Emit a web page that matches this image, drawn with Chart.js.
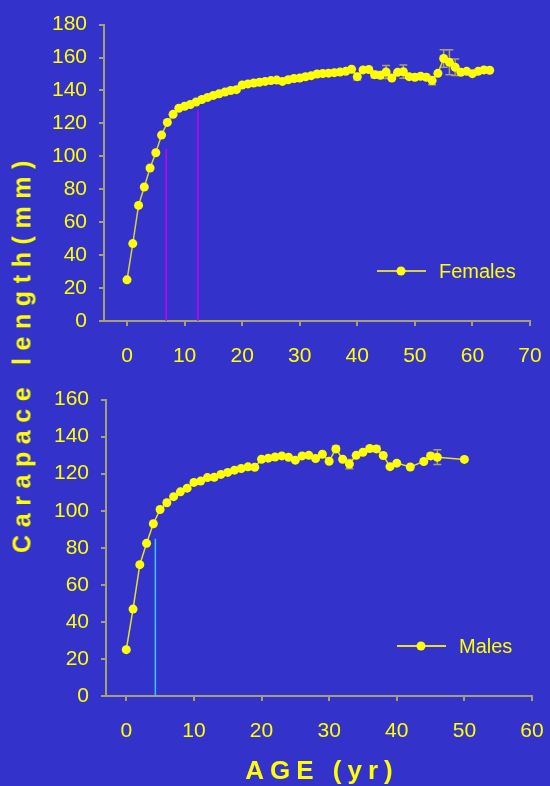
<!DOCTYPE html>
<html>
<head>
<meta charset="utf-8">
<script src="https://cdn.jsdelivr.net/npm/chart.js@4.4.0/dist/chart.umd.min.js"></script>
<style>
  html, body { margin: 0; padding: 0; background: #3333cc; }
  body { width: 550px; height: 786px; position: relative; overflow: hidden; font-family: "Liberation Sans", Arial, sans-serif; }
  canvas { position: absolute; left: 0; }
  #femaleChart { top: 0; }
  #maleChart { top: 375px; }
  .axisTitle { position: absolute; color: #ffff00; font-weight: bold; white-space: nowrap; }
  #yTitle { left: 22px; top: 353px; font-size: 25px; letter-spacing: 7.6px; transform: translate(-50%, -50%) rotate(-90deg); }
  #xTitle { left: 322px; top: 770px; font-size: 26px; letter-spacing: 6px; transform: translate(-50%, -50%); }
</style>
</head>
<body>
<canvas id="femaleChart" width="550" height="375"></canvas>
<canvas id="maleChart" width="550" height="411"></canvas>
<div id="yTitle" class="axisTitle">Carapace length(mm)</div>
<div id="xTitle" class="axisTitle">AGE (yr)</div>
<script>
// Females: age (yr) and mean carapace length (mm)
const femaleAge = [0,1,2,3,4,5,6,7,8,9,10,11,12,13,14,15,16,17,18,19,20,21,22,23,24,25,26,27,28,29,30,31,
    32,33,34,35,36,37,38,39,40,41,42,43,44,45,46,47,48,49,50,51,52,53,54,55,56,57,58,59,60,61,62,63];
const femaleLength = [25,47,70.2,81.4,92.9,102.2,112.9,120.6,125.5,129.2,130.4,131.5,133,134.5,135.8,137,
    138,139,140,140.5,143.3,144,144.5,145,145.5,146,146.3,145.5,146.5,147.3,147.5,148.3,149,150,150.3,
    150.5,150.8,151.2,151.6,152.9,148.4,152.5,152.7,149.6,149.2,151.2,147.6,151,151.4,148.4,148,148.6,
    148,146,150.4,159.4,157.1,154.1,151,151.6,150.2,151.6,152.5,152.3];
const femaleErrAge = [40,43,45,48,53,55,56,57];
const femaleErr = [2,2,4,4,2.5,5.3,7.6,5];
const femaleMarkAge = [6.8,12.3];
const femaleMarkTop = [104.5,128];
const femaleTicksX = [0,10,20,30,40,50,60,70];

// Males
const maleAge = [0,1,2,3,4,5,6,7,8,9,10,11,12,13,14,15,16,17,18,19,20,21,22,23,24,25,26,27,28,29,30,
    31,32,33,34,35,36,37,38,39,40,42,44,45,46,50];
const maleLength = [25,46.9,70.9,82.4,93,100.7,104.3,107.6,110.2,112.2,115.3,116,117.9,118.1,119.6,120.7,
    121.9,122.8,123.7,123.5,127.8,128.4,129,129.6,128.9,127.3,129.6,129.9,128.2,130.5,126.7,133.4,127.8,
    125.2,129.9,131.6,133.6,133.4,129.8,123.8,125.7,123.6,126.6,129.6,128.9,127.7];
const maleErrAge = [31,33,36,37,45,46];
const maleErr = [1.5,2.5,1,1.5,1.5,4];
const maleMarkAge = [4.3];
const maleMarkTop = [84.9];
const maleTicksX = [0,10,20,30,40,50,60];

const yellow = '#ffff00';
const axisColor = '#a8a070';
const family = '"Liberation Sans", Arial, sans-serif';

// error bars drawn under the markers
const errorBars = {
    id: 'errorBars',
    beforeDatasetsDraw(chart, args, opts) {
        const ctx = chart.ctx;
        const x = chart.scales.x, y = chart.scales.y;
        ctx.save();
        ctx.strokeStyle = opts.color;
        ctx.lineWidth = 1.5;
        opts.ages.forEach((a, i) => {
            const v = opts.values[opts.allAges.indexOf(a)];
            const px = x.getPixelForValue(a);
            const top = y.getPixelForValue(v + opts.errs[i]);
            const bot = y.getPixelForValue(v - opts.errs[i]);
            ctx.beginPath();
            ctx.moveTo(px, top); ctx.lineTo(px, bot);
            ctx.moveTo(px - 4, top); ctx.lineTo(px + 4, top);
            ctx.moveTo(px - 4, bot); ctx.lineTo(px + 4, bot);
            ctx.stroke();
        });
        ctx.restore();
    }
};

// legend box: line with marker, then label
const sideLegend = {
    id: 'sideLegend',
    afterDraw(chart, args, opts) {
        const ctx = chart.ctx;
        ctx.save();
        ctx.strokeStyle = opts.lineColor;
        ctx.lineWidth = 2;
        ctx.beginPath();
        ctx.moveTo(opts.x, opts.y);
        ctx.lineTo(opts.x + 49, opts.y);
        ctx.stroke();
        ctx.fillStyle = yellow;
        ctx.beginPath();
        ctx.arc(opts.x + 24, opts.y, 4.5, 0, Math.PI * 2);
        ctx.fill();
        ctx.font = '20px ' + family;
        ctx.textBaseline = 'middle';
        ctx.fillText(opts.text, opts.x + 62, opts.y + 1);
        ctx.restore();
    }
};

function makeChart(id, ages, lengths, lineColor, markAge, markTop, markColor, xMin, xMax, xTicks, yMax, pad, errAges, errs, legendText, legendX) {
    const datasets = [{
        label: legendText,
        data: ages.map((a, i) => ({x: a, y: lengths[i]})),
        showLine: true,
        borderColor: lineColor,
        borderWidth: 1.5,
        pointRadius: 4.5,
        pointBorderWidth: 0,
        pointBackgroundColor: yellow
    }];
    markAge.forEach((a, i) => {
        datasets.push({
            label: 'mark' + i,
            data: [{x: a, y: 0}, {x: a, y: markTop[i]}],
            showLine: true,
            borderColor: markColor,
            borderWidth: 1.5,
            pointRadius: 0
        });
    });
    return new Chart(document.getElementById(id).getContext('2d'), {
        type: 'scatter',
        data: {datasets: datasets},
        options: {
            responsive: false,
            animation: false,
            layout: {padding: pad},
            plugins: {
                legend: {display: false},
                tooltip: {enabled: false},
                errorBars: {ages: errAges, errs: errs, allAges: ages, values: lengths, color: axisColor},
                sideLegend: {x: legendX, y: 271, text: legendText, lineColor: lineColor}
            },
            scales: {
                x: {
                    type: 'linear', min: xMin, max: xMax,
                    afterBuildTicks: s => { s.ticks = xTicks.map(v => ({value: v})); },
                    afterFit: s => { s.height = 54; s.paddingLeft = 0; s.paddingRight = 12; },
                    border: {color: axisColor, width: 2},
                    grid: {drawOnChartArea: false, tickLength: 5, color: axisColor, lineWidth: 2},
                    ticks: {color: yellow, font: {size: 21, family: family}, padding: 18, maxRotation: 0}
                },
                y: {
                    min: 0, max: yMax,
                    afterFit: s => { s.width = pad.yWidth; },
                    border: {color: axisColor, width: 2},
                    grid: {drawOnChartArea: false, tickLength: 5, color: axisColor, lineWidth: 2},
                    ticks: {stepSize: 20, color: yellow, font: {size: 21, family: family}, padding: 12}
                }
            }
        },
        plugins: [errorBars, sideLegend]
    });
}

makeChart('femaleChart', femaleAge, femaleLength, '#d8d040', femaleMarkAge, femaleMarkTop, '#cc00ee',
    -4, 70, femaleTicksX, 180, {top: 15, right: 20, bottom: 0, left: 0, yWidth: 104},
    femaleErrAge, femaleErr, 'Females', 377);
makeChart('maleChart', maleAge, maleLength, '#e8e020', maleMarkAge, maleMarkTop, '#33ccff',
    -3, 60, maleTicksX, 160, {top: 13, right: 18, bottom: 36, left: 0, yWidth: 106},
    maleErrAge, maleErr, 'Males', 397);
</script>
</body>
</html>
